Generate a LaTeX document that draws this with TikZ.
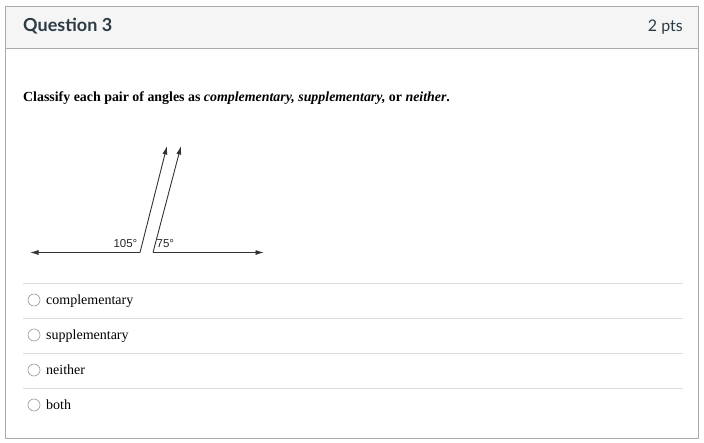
\documentclass[tikz,border=0pt]{standalone}
\usepackage{fontspec}
\setmainfont{Liberation Serif}
\newfontfamily\latofont{Lato}
\newfontfamily\figfont{Liberation Sans}
\usetikzlibrary{positioning, arrows.meta}
\definecolor{framegray}{HTML}{ACACAC}
\definecolor{headfill}{HTML}{F5F5F5}
\definecolor{rulegray}{HTML}{DDDDDD}
\definecolor{textdark}{HTML}{2D3B45}

\tikzset{
 option/.style={anchor=base west, font=\fontsize{14}{16}\selectfont, inner sep=0pt},
 radio/.style={circle, draw=gray!80, line width=0.6pt, minimum size=12pt, inner sep=0pt},
 ray/.style={draw=black!80, line width=0.9pt, -{Latex[length=8.5pt,width=5pt]}},
 anglabel/.style={font=\figfont\fontsize{11.5}{13}\selectfont, text=black!85, inner sep=0pt}
}

\begin{document}
\begin{tikzpicture}[x=1pt,y=-1pt]
\useasboundingbox (0,0) rectangle (704,443);
% the frame and its header
\draw[framegray, fill=white] (5.5,6.5) rectangle (698.5,438.5);
\draw[framegray, fill=headfill] (5.5,6.5) rectangle (698.5,48.5);
\node[anchor=base west, inner sep=0pt, font=\latofont\bfseries\fontsize{18}{21}\selectfont, text=textdark] (title) at (23,31.5) {Question 3};
\node[anchor=base east, inner sep=0pt, font=\latofont\fontsize{16}{19}\selectfont, text=textdark] (pts) at (683,31.5) {2 pts};

% the question
\node[anchor=base west, inner sep=0pt, font=\bfseries\fontsize{13.9}{16}\selectfont] (prompt) at (23,101.5)
 {Classify each pair of angles as \textit{complementary, supplementary,} or \textit{neither}.};

% the two pairs of rays
\coordinate (left) at (30,252.5);
\coordinate (vertA) at (140,252.5);
\coordinate (topA) at (167,146);
\coordinate (vertB) at (153,252.5);
\coordinate (topB) at (181,146);
\coordinate (right) at (264,252.5);
\draw[ray] (vertA) -- (left);
\draw[ray] (vertA) -- (topA);
\draw[ray] (vertB) -- (topB);
\draw[ray] (vertB) -- (right);
\node[anchor=base east, anglabel] (angA) at (137.5,247.5) {105°};
\node[anchor=base west, anglabel] (angB) at (156.5,247.5) {75°};

% the answers and the rules between them
\foreach \txt [count=\i] in {complementary, supplementary, neither, both} {
 \draw[rulegray] (23,248+35*\i) -- (683,248+35*\i);
 \node[radio] (radio\i) at (34,265+35*\i) {};
 \node[option] (opt\i) at (46,269.5+35*\i) {\txt};
}
\end{tikzpicture}
\end{document}
